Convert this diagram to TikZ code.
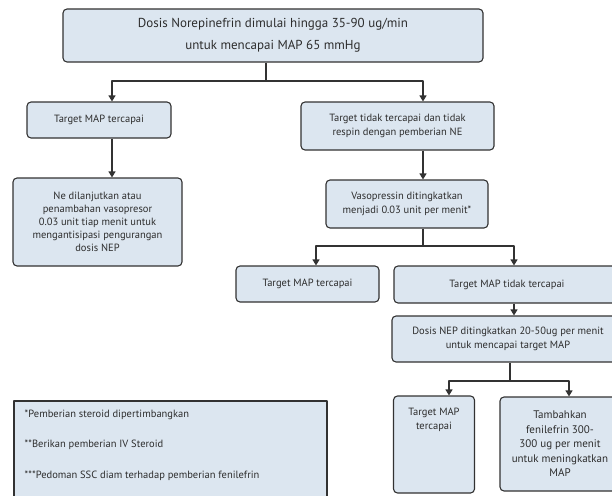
\documentclass[tikz,border=0pt]{standalone}
\usepackage{fontspec}
\setmainfont{PT Sans}
\usetikzlibrary{arrows.meta}
\definecolor{isi}{RGB}{220,230,240}
\definecolor{tepi}{RGB}{50,50,50}
\definecolor{teks}{RGB}{45,45,45}
\begin{document}
\begin{tikzpicture}[x=1pt,y=-1pt,line join=round,
	kotak/.style={draw=tepi,line width=1.1pt,fill=isi,rounded corners=4pt,align=center,text=teks,inner sep=2pt,font=\fontsize{10.5}{14.5}\selectfont},
	tulisan/.style={align=center,text=teks,font=\fontsize{10.5}{14.5}\selectfont},
	sambung/.style={draw=tepi,line width=1.1pt},
	panah/.style={sambung,-{Triangle[length=6pt,width=7pt]}}]
	%==Bingkai gambar
	\useasboundingbox (0,0) rectangle (612,495);
	\clip (0,0) rectangle (612,495);
	%==Kotak-kotak
	\node[kotak,minimum width=420,minimum height=53,font=\fontsize{13}{22}\selectfont] (awal) at (273,35.5) {Dosis Norepinefrin dimulai hingga 35-90 ug/min\\untuk mencapai MAP 65 mmHg};
	\node[kotak,minimum width=144,minimum height=36] (capaiA) at (99,120) {Target MAP tercapai};
	\node[kotak,minimum width=193,minimum height=48] (gagalA) at (397.5,126) {Target tidak tercapai dan tidak\\respin dengan pemberian NE};
	\node[kotak,minimum width=169,minimum height=88,font=\fontsize{10.5}{13}\selectfont] (lanjut) at (97.5,222) {Ne dilanjutkan atau\\penambahan vasopresor\\0.03 unit tiap menit untuk\\mengantisipasi pengurangan\\dosis NEP};
	\node[kotak,minimum width=162,minimum height=48] (vaso) at (407,204) {Vasopressin ditingkatkan\\menjadi 0.03 unit per menit*};
	\node[kotak,minimum width=143,minimum height=36] (capaiB) at (307.5,284) {Target MAP tercapai};
	\node[kotak,minimum width=226,minimum height=37] (gagalB) at (507,284.5) {Target MAP tidak tercapai};
	\node[kotak,minimum width=232,minimum height=46] (nep) at (508,339) {Dosis NEP ditingkatkan 20-50ug per menit\\untuk mencapai target MAP};
	\node[kotak,minimum width=81,minimum height=97,label={[tulisan,anchor=north,yshift=-9pt]north:{Target MAP\\tercapai}}] (capaiC) at (434,444.5) {};
	\node[kotak,minimum width=120,minimum height=94,font=\fontsize{11}{14.5}\selectfont] (tambah) at (560,444) {Tambahkan\\fenilefrin 300-\\300 ug per menit\\untuk meningkatkan\\MAP};
	\node[kotak,rounded corners=0pt,line width=1.6pt,minimum width=313,minimum height=104,label={[tulisan,align=left,anchor=north west,font=\fontsize{10.5}{30.5}\selectfont,xshift=8pt,yshift=-6pt]north west:{*Pemberian steroid dipertimbangkan\\**Berikan pemberian IV Steroid\\***Pedoman SSC diam terhadap pemberian fenilefrin}}] (ket) at (170.5,453) {};
	%==Garis penghubung
	\coordinate (cabangA) at (266,81);
	\coordinate (xKiri) at (112,0);
	\coordinate (xKanan) at (423,0);
	\draw[sambung] (awal.south -| cabangA)--(cabangA);
	\draw[panah] (cabangA) -| (capaiA.north -| xKiri);
	\draw[panah] (cabangA) -| (gagalA.north -| xKanan);
	\draw[panah] (capaiA.south -| xKiri)--(lanjut.north -| xKiri);
	\draw[panah] (gagalA.south -| xKanan)--(vaso.north -| xKanan);
	\coordinate (cabangB) at (423,246);
	\coordinate (xB1) at (316,0);
	\coordinate (xB2) at (514,0);
	\draw[sambung] (vaso.south -| cabangB)--(cabangB);
	\draw[panah] (cabangB) -| (capaiB.north -| xB1);
	\draw[panah] (cabangB) -| (gagalB.north -| xB2);
	\draw[panah] (gagalB.south -| xB2)--(nep.north -| xB2);
	\coordinate (cabangC) at (510,381);
	\coordinate (xC1) at (449,0);
	\coordinate (xC2) at (569,0);
	\draw[sambung] (nep.south -| cabangC)--(cabangC);
	\draw[panah] (cabangC) -| (capaiC.north -| xC1);
	\draw[panah] (cabangC) -| (tambah.north -| xC2);
\end{tikzpicture}
\end{document}
